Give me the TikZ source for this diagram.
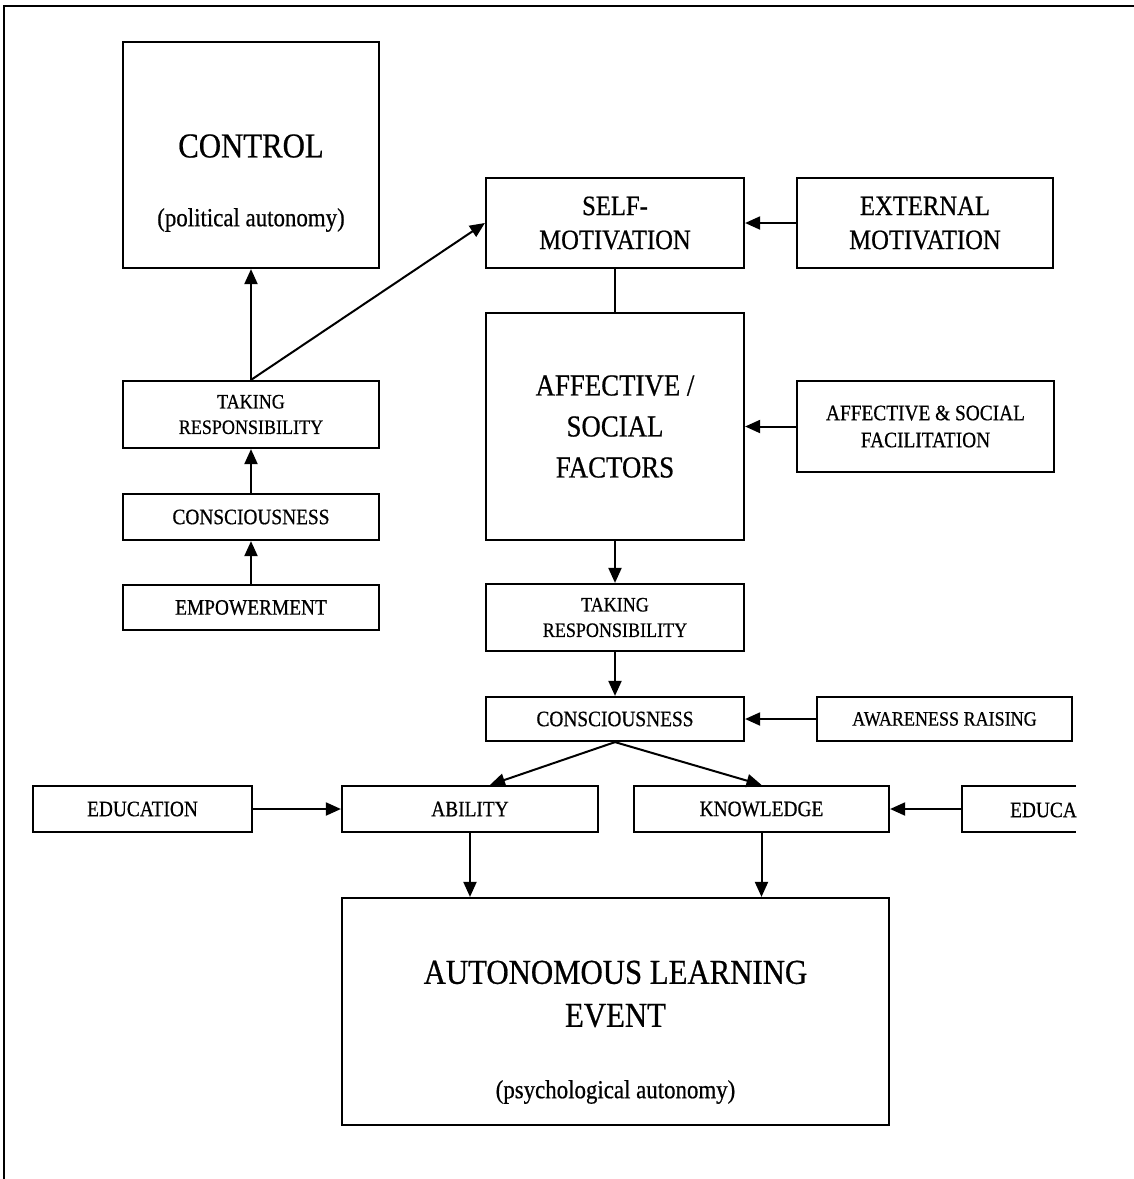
\documentclass[tikz,border=0pt]{standalone}
\usepackage{fontspec}
\setmainfont{Liberation Serif}[FakeStretch=0.88,FakeBold=0.6]
\usetikzlibrary{arrows.meta}
\begin{document}
\begin{tikzpicture}[x=1pt,y=-1pt,
  box/.style={draw, line width=2.2pt, inner sep=0pt, align=center},
  fbig/.style={font=\fontsize{35}{43}\selectfont},
  fparen/.style={font=\fontsize{26}{30}\selectfont},
  fmid/.style={font=\fontsize{28}{34}\selectfont},
  faff/.style={font=\fontsize{30.5}{41}\selectfont},
  fsmall/.style={font=\fontsize{22}{27}\selectfont},
  ftake/.style={font=\fontsize{20.5}{25.5}\selectfont},
  txt/.style={inner sep=0pt, align=center},
  conn/.style={line width=2pt, -{Triangle[length=15pt,width=13pt]}},
  plain/.style={line width=2pt}
]
\useasboundingbox (0,0) rectangle (1134,1179);
% frame
\draw[line width=1.6pt] (4,1179) -- (4,6) -- (1134,6);

% left column
\node[box, minimum width=256pt, minimum height=226pt] (control) at (251,155) {};
\node[txt, fbig] (controlt) at (251,146) {CONTROL};
\node[txt, fparen] (controlp) at (251,220) {(political autonomy)};
\node[box, ftake, minimum width=256pt, minimum height=67pt] (takeL) at (251,414.5) {TAKING\\RESPONSIBILITY};
\node[box, fsmall, minimum width=256pt, minimum height=46pt] (consL) at (251,517) {CONSCIOUSNESS};
\node[box, fsmall, minimum width=256pt, minimum height=45pt] (empow) at (251,607.5) {EMPOWERMENT};

% centre column
\node[box, fmid, minimum width=258pt, minimum height=90pt] (selfmot) at (615,223) {SELF-\\MOTIVATION};
\node[box, faff, minimum width=258pt, minimum height=227pt] (affect) at (615,426.5) {AFFECTIVE /\\SOCIAL\\FACTORS};
\node[box, ftake, minimum width=258pt, minimum height=67pt] (takeC) at (615,617.5) {TAKING\\RESPONSIBILITY};
\node[box, fsmall, minimum width=258pt, minimum height=44pt] (consC) at (615,719) {CONSCIOUSNESS};

% right column
\node[box, fmid, minimum width=256pt, minimum height=90pt] (extmot) at (925,223) {EXTERNAL\\MOTIVATION};
\node[box, fsmall, minimum width=257pt, minimum height=91pt] (facil) at (925.5,426.5) {AFFECTIVE \& SOCIAL\\FACILITATION};
\node[box, ftake, minimum width=255pt, minimum height=44pt] (aware) at (944.5,719) {AWARENESS RAISING};

% lower row
\node[box, fsmall, minimum width=219pt, minimum height=46pt] (educL) at (142.5,809) {EDUCATION};
\node[box, fsmall, minimum width=256pt, minimum height=46pt] (ability) at (470,809) {ABILITY};
\node[box, fsmall, minimum width=255pt, minimum height=46pt] (knowl) at (761.5,809) {KNOWLEDGE};
\node[txt, fsmall, anchor=east] (educa) at (1077,810) {EDUCA};
\coordinate (educaL) at (962,809);
\draw[line width=2.2pt] (1076,786) -- (962,786) -- (962,832) -- (1076,832);

% bottom
\node[box, minimum width=547pt, minimum height=227pt] (ale) at (615.5,1011.5) {};
\node[txt, fbig] (alet) at (615.5,994) {AUTONOMOUS LEARNING\\EVENT};
\node[txt, fparen] (alep) at (615.5,1092) {(psychological autonomy)};

% connectors
\draw[conn] (empow.north) -- (consL.south);
\draw[conn] (consL.north) -- (takeL.south);
\draw[conn] (takeL.north) -- (control.south);
\draw[conn] (takeL.north) -- (selfmot.west);
\draw[plain] (selfmot.south) -- (affect.north);
\draw[conn] (extmot.west) -- (selfmot.east);
\draw[conn] (facil.west) -- (affect.east);
\draw[conn] (affect.south) -- (takeC.north);
\draw[conn] (takeC.south) -- (consC.north);
\draw[conn] (aware.west) -- (consC.east);
\draw[conn] (consC.south) -- ([xshift=20pt]ability.north);
\draw[conn] (consC.south) -- (knowl.north);
\draw[conn] (educL.east) -- (ability.west);
\draw[conn] (educaL) -- (knowl.east);
\draw[conn] (ability.south) -- (ability.south |- ale.north);
\draw[conn] (knowl.south) -- (knowl.south |- ale.north);
\end{tikzpicture}
\end{document}
